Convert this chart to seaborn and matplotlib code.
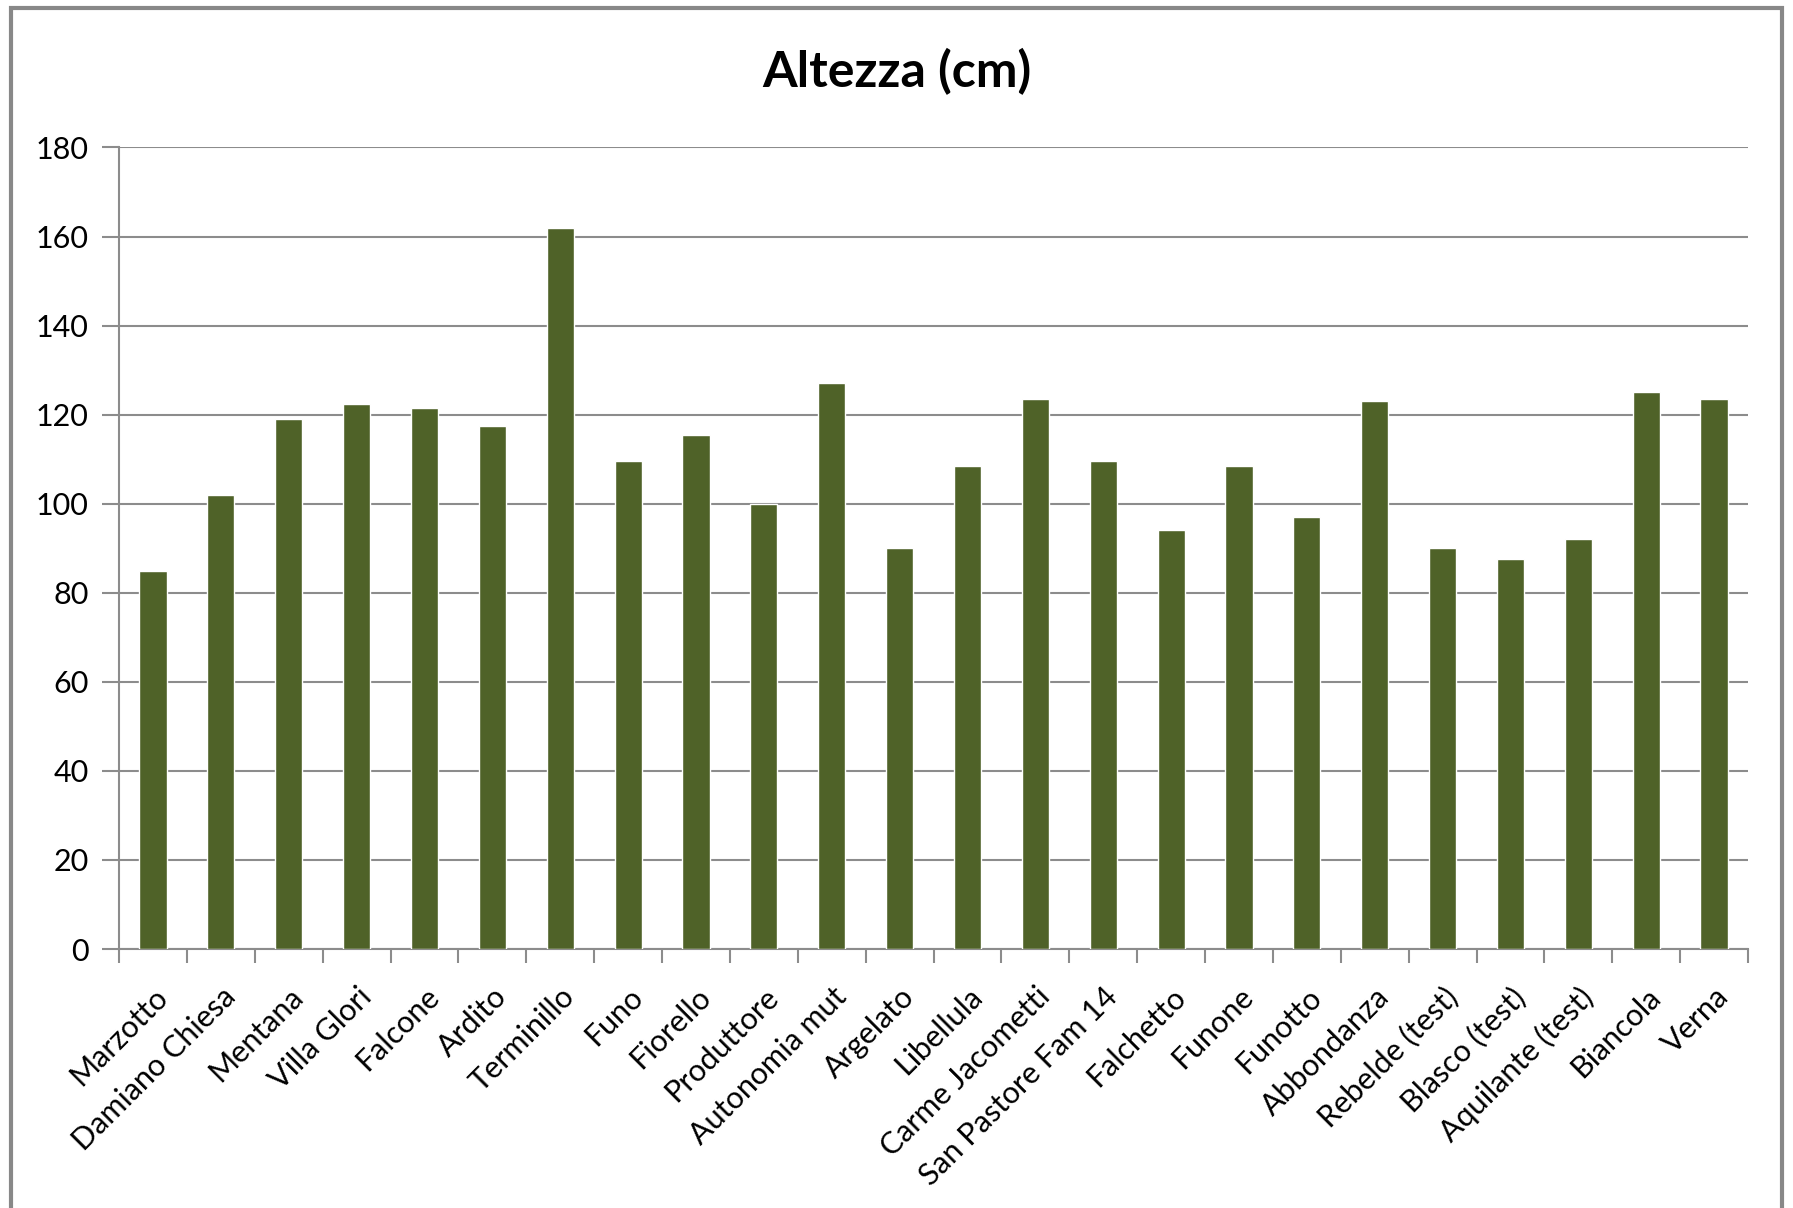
import matplotlib.pyplot as plt
import matplotlib.patches as mpatches
import numpy as np
import pandas as pd
import seaborn as sns

# Dati: altezza delle varietà (cm)
varieta = [
    "Marzotto", "Damiano Chiesa", "Mentana", "Villa Glori", "Falcone", "Ardito",
    "Terminillo", "Funo", "Fiorello", "Produttore", "Autonomia mut", "Argelato",
    "Libellula", "Carme Jacometti", "San Pastore Fam 14", "Falchetto", "Funone",
    "Funotto", "Abbondanza", "Rebelde (test)", "Blasco (test)", "Aquilante (test)",
    "Biancola", "Verna",
]
altezza = [
    85, 102, 119, 122.5, 121.5, 117.5, 162, 109.5, 115.5, 100, 127, 90,
    108.5, 123.5, 109.5, 94, 108.5, 97, 123, 90, 87.5, 92, 125, 123.5,
]
y_ticks = [0, 20, 40, 60, 80, 100, 120, 140, 160, 180]

df = pd.DataFrame({"varieta": varieta, "altezza": altezza})

sns.set_theme(style="white")
plt.rcParams["font.family"] = ["Lato", "DejaVu Sans"]

grigio = "#8c8c8c"

fig = plt.figure(figsize=(17.93, 12.08), dpi=100)
ax = fig.add_axes([0.0664, 0.2144, 0.9085, 0.6635])

sns.barplot(data=df, x="varieta", y="altezza", color="#4f6228", width=0.4,
            saturation=1, ax=ax, zorder=3)

ax.set_ylim(0, 180)
ax.set_yticks(y_ticks)
ax.set_xlim(-0.5, len(varieta) - 0.5)
ax.yaxis.grid(True, color=grigio, linewidth=1.5, zorder=0)
ax.xaxis.grid(False)

for lato in ["top", "right"]:
    ax.spines[lato].set_visible(False)
for lato in ["left", "bottom"]:
    ax.spines[lato].set_color(grigio)
    ax.spines[lato].set_linewidth(1.5)

# etichette al centro, tacche ai confini delle categorie
ax.set_xticks(np.arange(len(varieta)))
ax.set_xticklabels(varieta, rotation=45, ha="right", rotation_mode="anchor")
ax.set_xticks(np.arange(len(varieta) + 1) - 0.5, minor=True)
ax.tick_params(axis="x", which="major", length=0, pad=24, labelsize=22, colors="black")
ax.tick_params(axis="x", which="minor", length=10, width=1.5, color=grigio, bottom=True)
ax.tick_params(axis="y", length=12, width=1.5, color=grigio, left=True, pad=10,
               labelsize=22, labelcolor="black")

ax.set_xlabel("")
ax.set_ylabel("")
fig.text(0.5, 0.941, "Altezza (cm)", ha="center", va="center", fontsize=36,
         fontweight="bold", color="black")

# cornice esterna grigia
fig.patches.append(mpatches.Rectangle((0.006, -0.05), 0.988, 1.043, transform=fig.transFigure,
                                      fill=False, edgecolor="#888888", linewidth=3))

fig.savefig("out.png", dpi=100, facecolor="white")
